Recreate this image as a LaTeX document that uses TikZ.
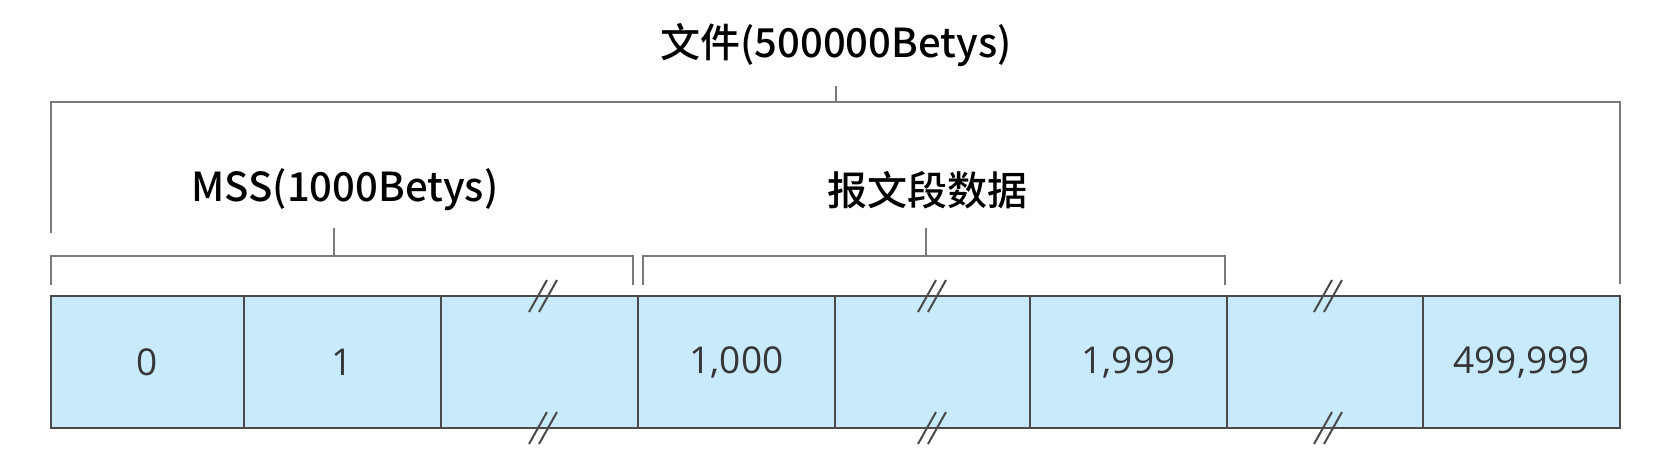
\documentclass[tikz,border=0pt]{standalone}
\usepackage{fontspec}
\newfontfamily\cjk{Noto Sans CJK SC}[UprightFont={* Medium}]
\newfontfamily\numfont{Open Sans}
\definecolor{cellfill}{HTML}{C8EAFB}
\definecolor{cellline}{HTML}{4A4A4A}
\definecolor{brk}{HTML}{7A7A7A}
\definecolor{numcol}{HTML}{363636}
\begin{document}
\begin{tikzpicture}[x=1pt,y=-1pt,
  cell/.style={draw=cellline,line width=2pt,fill=cellfill,minimum height=132pt,inner sep=0pt,
     font=\numfont\fontsize{37}{40}\selectfont,text=numcol},
  bracket/.style={draw=brk,line width=2.2pt},
  lbl/.style={font=\cjk\fontsize{40}{44}\selectfont,text=black,inner sep=0pt},
  breakmark/.style={draw=cellline,line width=2pt}]
\useasboundingbox (0,0) rectangle (1678,463);
\fill[white] (0,0) rectangle (1678,463);
% cells
\node[cell,minimum width=193pt] (c1) at (147.5,362) {0};
\node[cell,minimum width=197pt] (c2) at (342.5,362) {1};
\node[cell,minimum width=197pt] (c3) at (539.5,362) {};
\node[cell,minimum width=197pt] (c4) at (736.5,362) {1,000};
\node[cell,minimum width=195pt] (c5) at (932.5,362) {};
\node[cell,minimum width=197pt] (c6) at (1128.5,362) {1,999};
\node[cell,minimum width=196pt] (c7) at (1325,362) {};
\node[cell,minimum width=197pt] (c8) at (1521.5,362) {499,999};
% break marks
\foreach \cx in {543,932,1328}{
  \foreach \dx in {-5,5}{
    \draw[breakmark] (\cx+\dx-9,312) -- (\cx+\dx+9,280);
    \draw[breakmark] (\cx+\dx-9,444) -- (\cx+\dx+9,412);
  }
}
% labels
\node[lbl] (file) at (836,45) {文件(500000Betys)};
\node[lbl] (mss) at (345,190) {MSS(1000Betys)};
\node[lbl] (seg) at (927,190) {报文段数据};
% brackets
\coordinate (t1) at (51,233);
\coordinate (t2) at (1620,284);
\draw[bracket] (t1) -- (51,102) -- (1620,102) -- (t2);
\draw[bracket] (836,102) -- (836,86);
\draw[bracket] (51,285) -- (51,256) -- (633,256) -- (633,285);
\draw[bracket] (334,256) -- (334,228);
\draw[bracket] (643,285) -- (643,256) -- (1225,256) -- (1225,285);
\draw[bracket] (926,256) -- (926,228);
\end{tikzpicture}
\end{document}
